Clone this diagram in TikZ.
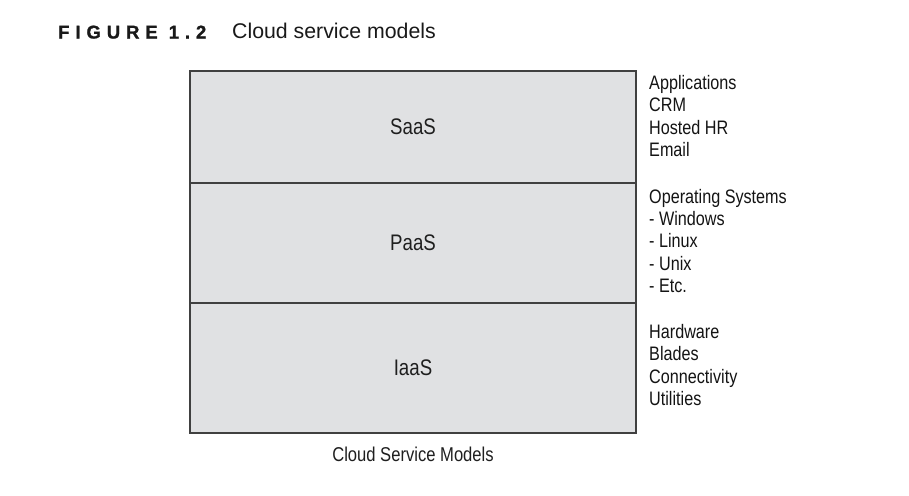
\documentclass[tikz,border=0pt]{standalone}
\usepackage{fontspec}
\setmainfont{Liberation Sans}
\newfontfamily\narrowfont[FakeStretch=0.83]{Liberation Sans}
\newfontfamily\figfont[LetterSpace=32, FakeBold=1.2]{Liberation Sans}
\begin{document}
\begin{tikzpicture}[x=1pt,y=-1pt,
  layer/.style={draw=black!75, line width=1.4pt, fill=layergray, inner sep=0pt, outer sep=0pt,
    minimum width=446pt, anchor=north west, font=\narrowfont\fontsize{22.5}{26}\selectfont, text=black!88},
  sidelist/.style={anchor=west, align=left, inner sep=0pt, font=\narrowfont\fontsize{19.5}{22.4}\selectfont, text=black!92},
  ]
\definecolor{layergray}{HTML}{E0E1E3}
\useasboundingbox (0,0) rectangle (909,495);
\fill[white] (0,0) rectangle (909,495);
% title
\node[anchor=base west, inner sep=0pt, text=black!90, font=\figfont\bfseries\fontsize{18.5}{20}\selectfont] (fig) at (58,38.5) {FIGURE 1.2};
\node[anchor=base west, inner sep=0pt, text=black!90, font=\fontsize{21.3}{22}\selectfont] (cap) at (232,38.5) {Cloud service models};
% layers
\node[layer, minimum height=112pt] (saas) at (190,71) {SaaS};
\node[layer, minimum height=120pt] (paas) at (190,183) {PaaS};
\node[layer, minimum height=130pt] (iaas) at (190,303) {IaaS};
% side lists
\node[sidelist] (l1) at (649,116) {Applications\\CRM\\Hosted HR\\Email};
\node[sidelist] (l2) at (649,241) {Operating Systems\\- Windows\\- Linux\\- Unix\\- Etc.};
\node[sidelist] (l3) at (649,365) {Hardware\\Blades\\Connectivity\\Utilities};
% bottom label
\node[inner sep=0pt, text=black!88, font=\narrowfont\fontsize{20}{24}\selectfont] (lbl) at (413,454) {Cloud Service Models};
\end{tikzpicture}
\end{document}
